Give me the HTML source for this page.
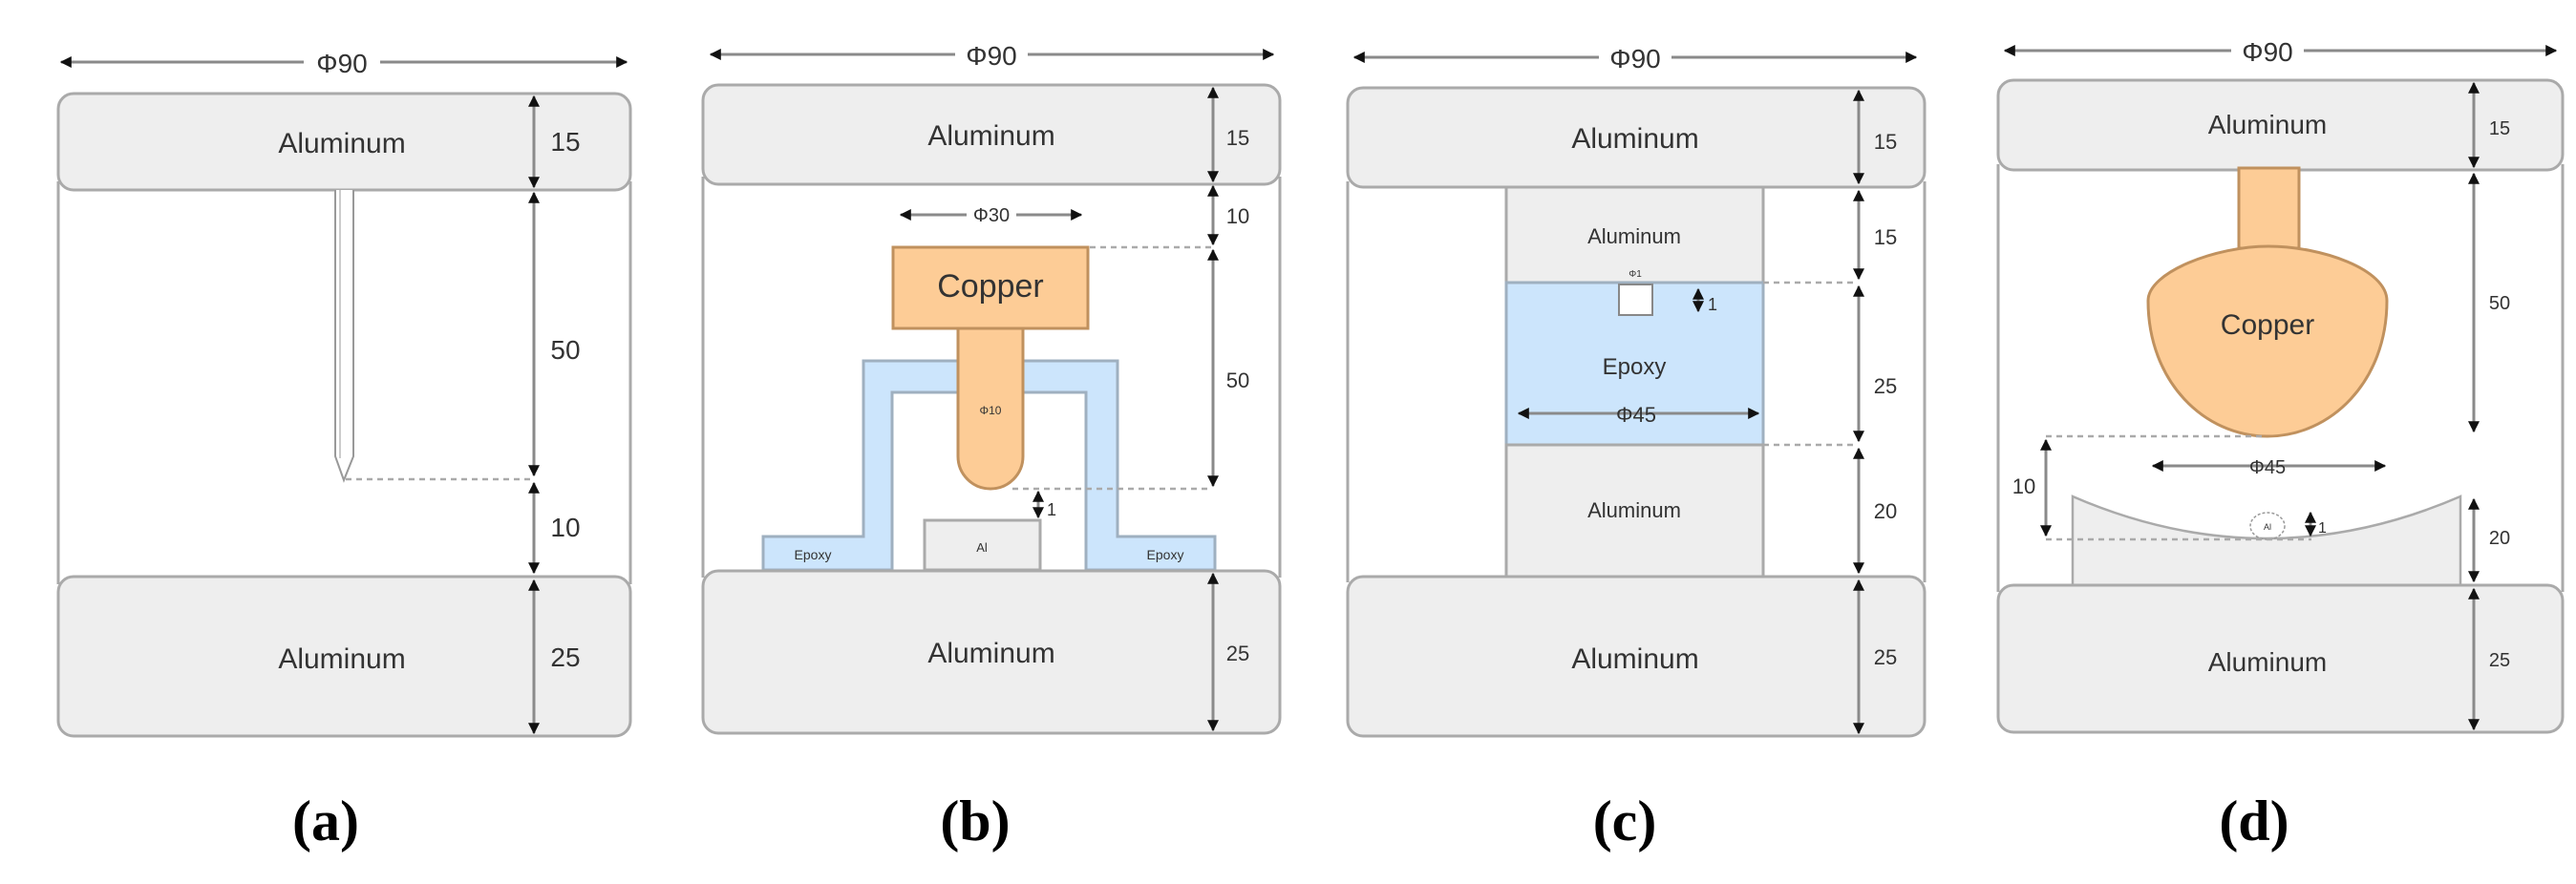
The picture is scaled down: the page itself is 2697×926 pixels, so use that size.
<!DOCTYPE html>
<html><head><meta charset="utf-8"><style>
html,body{margin:0;padding:0;background:#fff;}
svg{display:block;}
text{font-family:"Liberation Sans",sans-serif;fill:#333;}
.al{fill:#eeeeee;stroke:#aaaaaa;stroke-width:3;}
.fr{stroke:#aaaaaa;stroke-width:3;fill:none;}
.dim{stroke:#8a8a8a;stroke-width:3;fill:none;}
.dash{stroke:#aaaaaa;stroke-width:2.5;stroke-dasharray:6 5;fill:none;}
.cu{fill:#fdcc96;stroke:#c0915e;stroke-width:3;}
.ep{fill:#cce5fc;stroke:#9fb0c0;stroke-width:3;}
.cap{font-family:"Liberation Serif",serif;font-weight:bold;font-size:60px;fill:#000;}
</style></head><body>
<svg width="2697" height="926" viewBox="0 0 2697 926" xmlns="http://www.w3.org/2000/svg">
<defs>
<marker id="ar" viewBox="0 0 10 10" refX="9" refY="5" markerWidth="4" markerHeight="4" orient="auto-start-reverse"><path d="M0,0 L10,5 L0,10 Z" fill="#111"/></marker>
</defs>

<!-- ===== Panel a ===== -->
<line class="dim" x1="64" y1="65" x2="656" y2="65" marker-start="url(#ar)" marker-end="url(#ar)"/>
<rect x="318" y="50" width="80" height="30" fill="#fff"/>
<text x="358" y="76" font-size="28" text-anchor="middle">Φ90</text>
<line class="fr" x1="61" y1="190" x2="61" y2="612"/>
<line class="fr" x1="660" y1="190" x2="660" y2="612"/>
<rect class="al" x="61" y="98" width="599" height="101" rx="16"/>
<rect class="al" x="61" y="604" width="599" height="167" rx="16"/>
<text x="358" y="160" font-size="30" text-anchor="middle">Aluminum</text>
<text x="358" y="700" font-size="30" text-anchor="middle">Aluminum</text>
<path d="M351,199 L351,478 L360,503 L370,478 L370,199" fill="#fff" stroke="#999" stroke-width="2"/>
<line x1="356" y1="199" x2="356" y2="480" stroke="#bbb" stroke-width="1.5"/>
<line class="dash" x1="362" y1="502" x2="557" y2="502"/>
<line class="dim" x1="559" y1="101" x2="559" y2="196" marker-start="url(#ar)" marker-end="url(#ar)"/>
<line class="dim" x1="559" y1="202" x2="559" y2="498" marker-start="url(#ar)" marker-end="url(#ar)"/>
<line class="dim" x1="559" y1="506" x2="559" y2="600" marker-start="url(#ar)" marker-end="url(#ar)"/>
<line class="dim" x1="559" y1="608" x2="559" y2="768" marker-start="url(#ar)" marker-end="url(#ar)"/>
<text x="592" y="158" font-size="28" text-anchor="middle">15</text>
<text x="592" y="376" font-size="28" text-anchor="middle">50</text>
<text x="592" y="562" font-size="28" text-anchor="middle">10</text>
<text x="592" y="698" font-size="28" text-anchor="middle">25</text>
<text class="cap" x="341" y="880" text-anchor="middle">(a)</text>

<!-- ===== Panel b ===== -->
<line class="dim" x1="744" y1="57" x2="1333" y2="57" marker-start="url(#ar)" marker-end="url(#ar)"/>
<rect x="1000" y="42" width="76" height="30" fill="#fff"/>
<text x="1038" y="68" font-size="28" text-anchor="middle">Φ90</text>
<line class="fr" x1="736" y1="185" x2="736" y2="605"/>
<line class="fr" x1="1340" y1="185" x2="1340" y2="605"/>
<rect class="al" x="736" y="89" width="604" height="104" rx="16"/>
<text x="1038" y="152" font-size="30" text-anchor="middle">Aluminum</text>
<path class="ep" d="M799,597 L799,562 L904,562 L904,378 L1170,378 L1170,562 L1272,562 L1272,597 L1137,597 L1137,411 L934,411 L934,597 Z"/>
<text x="851" y="586" font-size="14" text-anchor="middle" fill="#555">Epoxy</text>
<text x="1220" y="586" font-size="14" text-anchor="middle" fill="#555">Epoxy</text>
<rect class="al" x="968" y="545" width="121" height="52" stroke-width="2.5"/>
<text x="1028" y="578" font-size="13" text-anchor="middle">Al</text>
<path class="cu" d="M1003,340 L1003,478 A34,34 0 0 0 1071,478 L1071,340 Z"/>
<rect class="cu" x="935" y="259" width="204" height="85"/>
<text x="1037" y="311" font-size="34" text-anchor="middle">Copper</text>
<text x="1037" y="434" font-size="12" text-anchor="middle" fill="#7a5a3a">Φ10</text>
<rect class="al" x="736" y="598" width="604" height="170" rx="16"/>
<text x="1038" y="694" font-size="30" text-anchor="middle">Aluminum</text>
<line class="dim" x1="943" y1="225" x2="1132" y2="225" marker-start="url(#ar)" marker-end="url(#ar)"/>
<rect x="1012" y="212" width="52" height="24" fill="#fff"/>
<text x="1038" y="232" font-size="20" text-anchor="middle">Φ30</text>
<line class="dash" x1="1141" y1="259" x2="1268" y2="259"/>
<line class="dash" x1="1060" y1="512" x2="1268" y2="512"/>
<line class="dim" x1="1270" y1="92" x2="1270" y2="190" marker-start="url(#ar)" marker-end="url(#ar)"/>
<line class="dim" x1="1270" y1="195" x2="1270" y2="256" marker-start="url(#ar)" marker-end="url(#ar)"/>
<line class="dim" x1="1270" y1="262" x2="1270" y2="509" marker-start="url(#ar)" marker-end="url(#ar)"/>
<line class="dim" x1="1270" y1="601" x2="1270" y2="765" marker-start="url(#ar)" marker-end="url(#ar)"/>
<line class="dim" x1="1087" y1="515" x2="1087" y2="542" marker-start="url(#ar)" marker-end="url(#ar)" stroke-width="2"/>
<text x="1096" y="540" font-size="18">1</text>
<text x="1296" y="152" font-size="22" text-anchor="middle">15</text>
<text x="1296" y="234" font-size="22" text-anchor="middle">10</text>
<text x="1296" y="406" font-size="22" text-anchor="middle">50</text>
<text x="1296" y="692" font-size="22" text-anchor="middle">25</text>
<text class="cap" x="1021" y="880" text-anchor="middle">(b)</text>

<!-- ===== Panel c ===== -->
<line class="dim" x1="1418" y1="60" x2="2006" y2="60" marker-start="url(#ar)" marker-end="url(#ar)"/>
<rect x="1674" y="45" width="76" height="30" fill="#fff"/>
<text x="1712" y="71" font-size="28" text-anchor="middle">Φ90</text>
<line class="fr" x1="1411" y1="190" x2="1411" y2="610"/>
<line class="fr" x1="2015" y1="190" x2="2015" y2="610"/>
<rect class="al" x="1577" y="196" width="269" height="100" stroke-width="2.5"/>
<rect class="ep" x="1577" y="296" width="269" height="170" stroke-width="2.5"/>
<rect class="al" x="1577" y="466" width="269" height="140" stroke-width="2.5"/>
<rect class="al" x="1411" y="92" width="604" height="104" rx="16"/>
<rect class="al" x="1411" y="604" width="604" height="167" rx="16"/>
<text x="1712" y="155" font-size="30" text-anchor="middle">Aluminum</text>
<text x="1712" y="700" font-size="30" text-anchor="middle">Aluminum</text>
<text x="1711" y="255" font-size="22" text-anchor="middle">Aluminum</text>
<text x="1711" y="542" font-size="22" text-anchor="middle">Aluminum</text>
<text x="1711" y="392" font-size="24" text-anchor="middle">Epoxy</text>
<rect x="1695" y="298" width="35" height="32" fill="#fff" stroke="#888" stroke-width="2"/>
<text x="1712" y="290" font-size="10" text-anchor="middle">Φ1</text>
<line class="dim" x1="1778" y1="303" x2="1778" y2="326" marker-start="url(#ar)" marker-end="url(#ar)" stroke-width="2"/>
<text x="1788" y="325" font-size="18">1</text>
<line class="dim" x1="1590" y1="433" x2="1841" y2="433" marker-start="url(#ar)" marker-end="url(#ar)"/>
<text x="1713" y="442" font-size="22" text-anchor="middle">Φ45</text>
<line class="dash" x1="1846" y1="296" x2="1944" y2="296"/>
<line class="dash" x1="1846" y1="466" x2="1944" y2="466"/>
<line class="dim" x1="1946" y1="95" x2="1946" y2="192" marker-start="url(#ar)" marker-end="url(#ar)"/>
<line class="dim" x1="1946" y1="200" x2="1946" y2="292" marker-start="url(#ar)" marker-end="url(#ar)"/>
<line class="dim" x1="1946" y1="300" x2="1946" y2="462" marker-start="url(#ar)" marker-end="url(#ar)"/>
<line class="dim" x1="1946" y1="470" x2="1946" y2="600" marker-start="url(#ar)" marker-end="url(#ar)"/>
<line class="dim" x1="1946" y1="608" x2="1946" y2="768" marker-start="url(#ar)" marker-end="url(#ar)"/>
<text x="1974" y="156" font-size="22" text-anchor="middle">15</text>
<text x="1974" y="256" font-size="22" text-anchor="middle">15</text>
<text x="1974" y="412" font-size="22" text-anchor="middle">25</text>
<text x="1974" y="543" font-size="22" text-anchor="middle">20</text>
<text x="1974" y="696" font-size="22" text-anchor="middle">25</text>
<text class="cap" x="1701" y="880" text-anchor="middle">(c)</text>

<!-- ===== Panel d ===== -->
<line class="dim" x1="2099" y1="53" x2="2676" y2="53" marker-start="url(#ar)" marker-end="url(#ar)"/>
<rect x="2336" y="38" width="76" height="30" fill="#fff"/>
<text x="2374" y="64" font-size="28" text-anchor="middle">Φ90</text>
<line class="fr" x1="2092" y1="172" x2="2092" y2="620"/>
<line class="fr" x1="2683" y1="172" x2="2683" y2="620"/>
<rect class="al" x="2092" y="84" width="591" height="94" rx="16"/>
<text x="2374" y="140" font-size="28" text-anchor="middle">Aluminum</text>
<rect class="cu" x="2344" y="176" width="63" height="84"/>
<path class="cu" d="M2249,315 C2249,285 2320,258 2375,258 C2430,258 2499,282 2499,315 C2499,400 2440,457 2374,457 C2308,457 2249,400 2249,315 Z"/>
<text x="2374" y="350" font-size="30" text-anchor="middle">Copper</text>
<path d="M2170,520 L2170,613 L2576,613 L2576,520 Q2373,608 2170,520 Z" fill="#eeeeee" stroke="#aaaaaa" stroke-width="2.5"/>
<ellipse cx="2374" cy="551" rx="18" ry="14" fill="none" stroke="#999" stroke-width="1.5" stroke-dasharray="3 2"/>
<text x="2374" y="555" font-size="9" text-anchor="middle">Al</text>
<rect class="al" x="2092" y="613" width="591" height="154" rx="16"/>
<text x="2374" y="703" font-size="28" text-anchor="middle">Aluminum</text>
<line class="dash" x1="2142" y1="457" x2="2370" y2="457"/>
<line class="dash" x1="2142" y1="565" x2="2420" y2="565"/>
<line class="dim" x1="2142" y1="461" x2="2142" y2="561" marker-start="url(#ar)" marker-end="url(#ar)"/>
<text x="2119" y="517" font-size="22" text-anchor="middle">10</text>
<line class="dim" x1="2254" y1="488" x2="2497" y2="488" marker-start="url(#ar)" marker-end="url(#ar)"/>
<text x="2374" y="496" font-size="20" text-anchor="middle">Φ45</text>
<line class="dim" x1="2419" y1="537" x2="2419" y2="561" marker-start="url(#ar)" marker-end="url(#ar)" stroke-width="2"/>
<text x="2427" y="558" font-size="16">1</text>
<line class="dim" x1="2590" y1="87" x2="2590" y2="175" marker-start="url(#ar)" marker-end="url(#ar)"/>
<line class="dim" x1="2590" y1="182" x2="2590" y2="452" marker-start="url(#ar)" marker-end="url(#ar)"/>
<line class="dim" x1="2590" y1="523" x2="2590" y2="609" marker-start="url(#ar)" marker-end="url(#ar)"/>
<line class="dim" x1="2590" y1="617" x2="2590" y2="764" marker-start="url(#ar)" marker-end="url(#ar)"/>
<text x="2617" y="141" font-size="20" text-anchor="middle">15</text>
<text x="2617" y="324" font-size="20" text-anchor="middle">50</text>
<text x="2617" y="570" font-size="20" text-anchor="middle">20</text>
<text x="2617" y="698" font-size="20" text-anchor="middle">25</text>
<text class="cap" x="2360" y="880" text-anchor="middle">(d)</text>
</svg>
</body></html>
